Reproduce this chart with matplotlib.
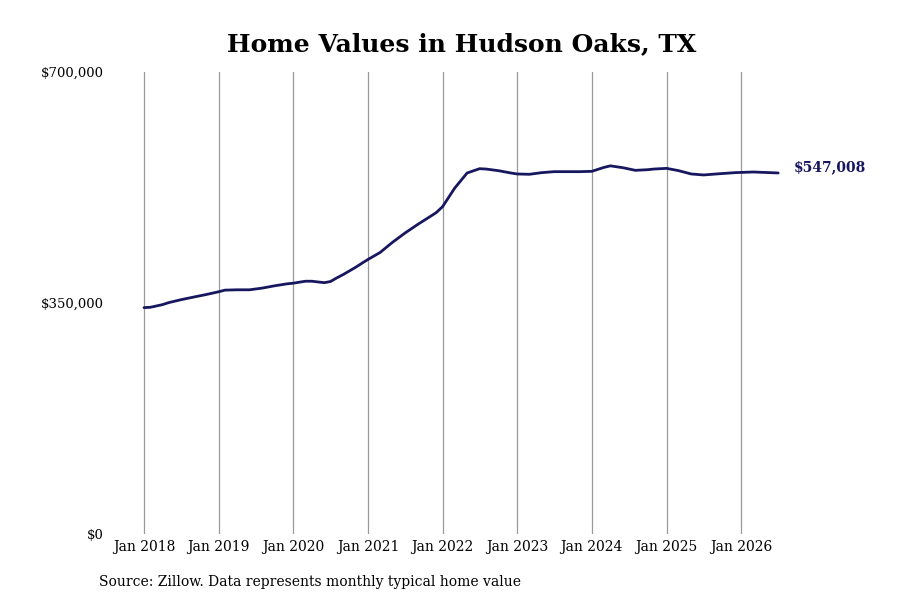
import matplotlib
matplotlib.use("Agg")
import matplotlib.pyplot as plt
import matplotlib.dates as mdates
import pandas as pd

# typical home value
months = ["2018-01", "2018-02", "2018-04", "2018-05", "2018-07", "2018-09", "2018-11",
          "2019-01", "2019-02", "2019-04", "2019-06", "2019-08", "2019-10", "2019-12",
          "2020-01", "2020-03", "2020-04", "2020-06", "2020-07", "2020-08", "2020-09",
          "2020-11", "2020-12", "2021-01", "2021-03", "2021-05", "2021-07", "2021-09",
          "2021-11", "2021-12", "2022-01", "2022-03", "2022-05", "2022-07", "2022-08",
          "2022-10", "2022-12", "2023-01", "2023-03", "2023-05", "2023-07", "2023-09",
          "2023-11", "2024-01", "2024-03", "2024-04", "2024-06", "2024-08", "2024-10",
          "2024-11", "2025-01", "2025-03", "2025-05", "2025-07", "2025-09", "2025-12",
          "2026-03", "2026-07"]
values = [343000, 343500, 347500, 350500, 355000, 359000, 362800,
          367000, 369500, 370000, 370000, 372500, 376000, 379000,
          380000, 383000, 383000, 380800, 382500, 388000, 393000,
          404000, 410000, 416000, 426500, 442000, 456000, 469000,
          481000, 487000, 496000, 524000, 547000, 553500, 553000,
          550500, 547000, 545500, 545000, 547500, 549000, 549000,
          549000, 549500, 555500, 557800, 555000, 551000, 552000,
          553000, 554000, 550500, 545500, 544000, 545500, 547500,
          548500, 547008]

tick_years = list(range(2018, 2027))
y_ticks = [0, 350000, 700000]
y_labels = ["$0", "$350,000", "$700,000"]

title = "Home Values in Hudson Oaks, TX"
source = "Source: Zillow. Data represents monthly typical home value"

plt.rcParams['font.family'] = ['DejaVu Serif']

dates = pd.to_datetime(months)
line_col = "#17175f"
grid_col = "#9a9a9a"

fig = plt.figure(figsize=(9, 6), dpi=100)
left_px, right_px = 112.5, 864.0
ax = fig.add_axes([left_px / 900, 0.11, (right_px - left_px) / 900, 0.77])

ax.plot(dates, values, color=line_col, linewidth=2.0,
        solid_capstyle="round", solid_joinstyle="round")

# x range: ~74.65 px per year, Jan 2018 sits at 144 px
start = mdates.date2num(pd.Timestamp("2018-01-01"))
px_day = 74.65 / 365.25
ax.set_xlim(start - (144 - left_px) / px_day, start + (right_px - 144) / px_day)
ax.set_ylim(0, 700000)

ax.set_xticks([pd.Timestamp(f"{y}-01-01") for y in tick_years])
ax.set_xticklabels([f"Jan {y}" for y in tick_years], fontsize=10)
ax.set_yticks(y_ticks)
ax.set_yticklabels(y_labels, fontsize=9.5)
ax.tick_params(axis="both", length=0, pad=4)
ax.tick_params(axis="y", pad=6)
ax.grid(axis="x", color=grid_col, linewidth=0.9)
ax.set_axisbelow(True)
for s in ax.spines.values():
    s.set_visible(False)

last_val = values[-1]
ax.annotate(f"${last_val:,}", xy=(dates[-1], last_val), xytext=(11, 4),
            textcoords="offset points", ha="left", va="center",
            fontsize=10, fontweight="bold", color=line_col)

fig.text(0.513, 0.927, title, ha="center", va="center", fontsize=18, fontweight="bold")
fig.text(0.11, 0.03, source, ha="left", va="center", fontsize=10)

fig.savefig("out.png", dpi=100)
